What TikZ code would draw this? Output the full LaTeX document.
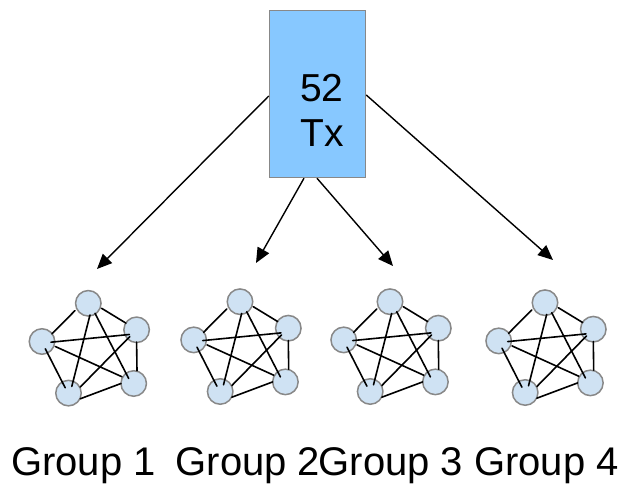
\documentclass[tikz,border=0pt]{standalone}
\usepackage{fontspec}
\setmainfont{Liberation Sans}
\usetikzlibrary{arrows.meta,calc}
\definecolor{boxblue}{HTML}{87C8FF}
\definecolor{nodeblue}{HTML}{CFE2F3}
\definecolor{rimgray}{HTML}{888888}
\begin{document}
\begin{tikzpicture}[x=1pt,y=-1pt,
  txbox/.style={draw=rimgray, line width=1.5pt, fill=boxblue,
    minimum width=96pt, minimum height=167pt, inner sep=0pt},
  peer/.style={circle, draw=rimgray, line width=1.5pt, fill=nodeblue,
    minimum size=25.5pt, inner sep=0pt},
  link/.style={line width=1.6pt, line cap=round},
  feed/.style={line width=1.4pt, -{Triangle[length=15pt,width=13pt]}},
  bigtext/.style={font=\fontsize{39}{45}\selectfont, inner sep=0pt},
  grouptext/.style={font=\fontsize{40}{46}\selectfont, inner sep=0pt},
]
\useasboundingbox (0,0) rectangle (622,486);

% transaction block
\node[txbox] (tx) at (317.5,94) {};
\node[bigtext, anchor=base west] (n52) at (300,102) {52};
\node[bigtext, anchor=base west] (ntx) at (300,147) {Tx};

% arrow targets above each group
\coordinate (g1tip) at (97,269);
\coordinate (g2tip) at (256,263);
\coordinate (g3tip) at (393,266);
\coordinate (g4tip) at (553,260);

\draw[feed] ($(tx.west)+(0,2)$) -- (g1tip);
\draw[feed] ($(tx.south)+(-13.5,0)$) -- (g2tip);
\draw[feed] ($(tx.south)+(-0.5,0)$) -- (g3tip);
\draw[feed] ($(tx.east)+(0,1)$) -- (g4tip);

% four fully connected groups of five peers
\foreach \g/\x/\y/\lx in {1/88.3/303.3/83.5, 2/240/301.7/248, 3/390/301.7/391, 4/545/302.7/546.5} {
  \begin{scope}[shift={(\x,\y)}]
    \node[peer] (t\g)  at (0,0) {};
    \node[peer] (r\g)  at (48.3,26.5) {};
    \node[peer] (l\g)  at (-46.3,38.2) {};
    \node[peer] (bl\g) at (-19.8,89.8) {};
    \node[peer] (br\g) at (45.4,80.2) {};
  \end{scope}
  \draw[link] ($(t\g)+(-13.3,7.3)$) -- ($(l\g)+(10,-7.7)$);
  \draw[link] ($(t\g)+(13.3,5)$) -- ($(r\g)+(-10.7,-6.7)$);
  \draw[link] ($(t\g)+(1.7,11.7)$) -- ($(bl\g)+(3.3,-6.7)$);
  \draw[link] ($(t\g)+(6.7,10)$) -- ($(br\g)+(-5,-5)$);
  \draw[link] ($(r\g)+(-7.3,4.7)$) -- ($(l\g)+(9,0.7)$);
  \draw[link] ($(r\g)+(0,12.3)$) -- ($(br\g)+(3.3,-12.7)$);
  \draw[link] ($(r\g)+(-6.7,6.7)$) -- ($(bl\g)+(11.7,-6)$);
  \draw[link] ($(l\g)+(13.3,5)$) -- ($(br\g)+(-11.7,-6.7)$);
  \draw[link] ($(l\g)+(3.3,7.3)$) -- ($(bl\g)+(-3.3,-5.3)$);
  \draw[link] ($(bl\g)+(11.7,5.7)$) -- ($(br\g)+(-12.7,0)$);
  \node[grouptext, anchor=base] (lab\g) at (\lx,476) {Group \g};
}
\end{tikzpicture}
\end{document}
